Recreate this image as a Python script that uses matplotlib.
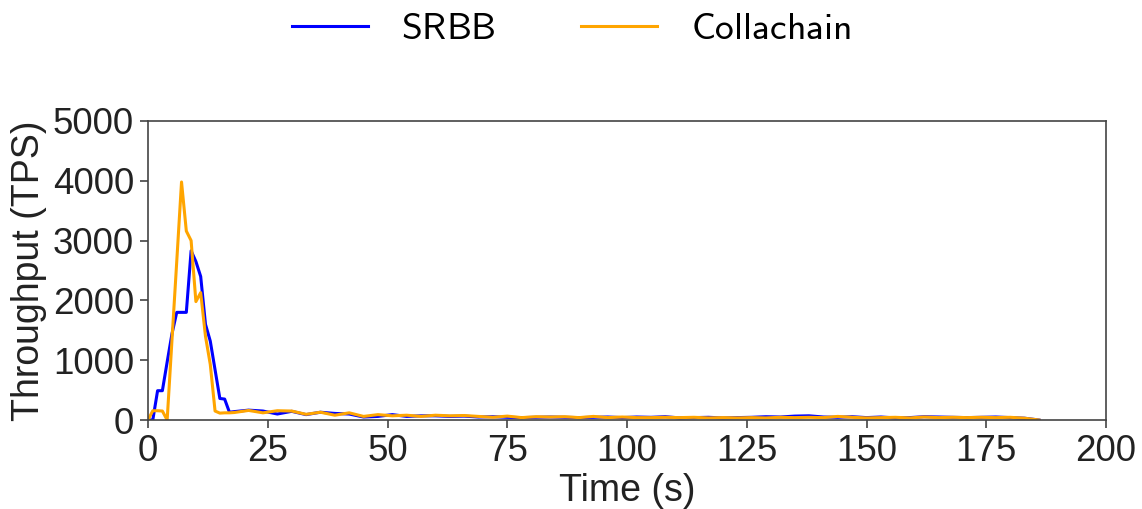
import matplotlib
matplotlib.use("Agg")
import matplotlib.pyplot as plt

# ---- data ----
t_early = [0, 1, 2, 3, 4, 5, 6, 7, 8, 9, 10, 11, 12, 13, 14, 15, 16, 17]
srbb_early = [0, 0, 490, 490, 970, 1440, 1800, 1800, 1800, 2830, 2650, 2400,
              1600, 1320, 840, 360, 350, 130]
colla_early = [0, 155, 155, 150, 0, 1330, 2650, 3980, 3160, 3000, 1980, 2130,
               1400, 930, 150, 115, 120, 120]

t_tail = list(range(18, 187, 3))
srbb_tail = [140, 165, 150, 100, 145, 90, 130, 110, 100, 50, 60, 90, 60, 70, 70,
             60, 65, 50, 55, 45, 40, 45, 50, 45, 40, 45, 50, 40, 50, 45, 55, 35,
             40, 45, 35, 40, 45, 55, 50, 65, 70, 50, 45, 55, 40, 50, 35, 40, 55,
             50, 45, 40, 45, 50, 40, 30, 0]
colla_tail = [125, 160, 120, 155, 150, 95, 130, 80, 120, 60, 90, 70, 80, 60, 80,
              70, 75, 60, 45, 65, 40, 55, 50, 55, 40, 60, 40, 50, 40, 40, 45, 40,
              45, 35, 40, 35, 40, 35, 45, 40, 45, 40, 60, 45, 35, 40, 45, 35, 50,
              40, 45, 40, 45, 40, 45, 30, 0]

series_names = ["SRBB", "Collachain"]
series_colors = ["blue", "orange"]

t_all = t_early + t_tail
srbb = srbb_early + srbb_tail
colla = colla_early + colla_tail

plt.rcParams["font.family"] = ["Liberation Sans", "DejaVu Sans"]
plt.rcParams["mathtext.fontset"] = "cm"

fig = plt.figure(figsize=(11.42, 5.09), dpi=100)
ax = fig.add_axes([148 / 1142, 1 - 420 / 509, (1106 - 148) / 1142, (420 - 121) / 509])

ax.plot(t_all, srbb, color=series_colors[0], lw=2.2,
        label=r"$\mathsf{" + series_names[0] + "}$")
ax.plot(t_all, colla, color=series_colors[1], lw=2.2,
        label=r"$\mathsf{" + series_names[1] + "}$")

ax.set_xlim(0, 200)
ax.set_ylim(0, 5000)
ax.set_xticks([0, 25, 50, 75, 100, 125, 150, 175, 200])
ax.set_yticks([0, 1000, 2000, 3000, 4000, 5000])
ax.tick_params(axis="both", labelsize=26.5, direction="out", length=6, width=1.2,
               color="#444444", labelcolor="#222222", pad=4)
for s in ax.spines.values():
    s.set_color("#444444")
    s.set_linewidth(1.2)
ax.set_xlabel("Time (s)", fontsize=27, color="#222222", labelpad=3)
ax.set_ylabel("Throughput (TPS)", fontsize=27, color="#222222", labelpad=4)

fig.legend(loc="upper center", bbox_to_anchor=(0.5, 1.045), ncol=2, frameon=False,
           fontsize=27, handlelength=2.03, handletextpad=0.9, columnspacing=2.25)

fig.savefig("out.png", dpi=100)
